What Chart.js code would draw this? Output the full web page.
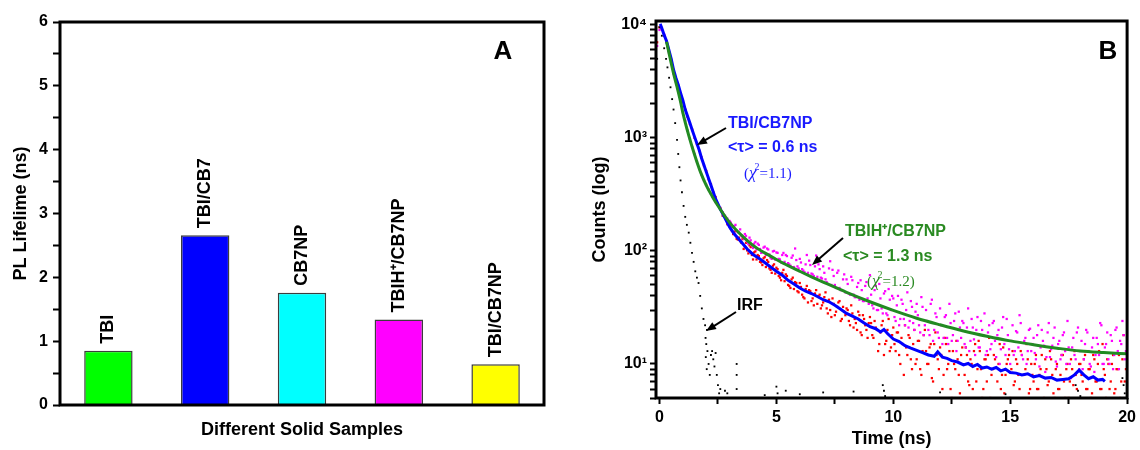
<!DOCTYPE html>
<html>
<head>
<meta charset="utf-8">
<script src="https://cdn.jsdelivr.net/npm/chart.js@4.4.1/dist/chart.umd.min.js"></script>
<style>
  html, body { margin: 0; padding: 0; background: #fff; }
  #wrap { position: relative; width: 1140px; height: 450px; }
  canvas { position: absolute; top: 0; }
  #chartA { left: 0; }
  #chartB { left: 570px; }
</style>
</head>
<body>
<div id="wrap">
  <canvas id="chartA" width="570" height="450"></canvas>
  <canvas id="chartB" width="570" height="450"></canvas>
</div>
<script>
// ---- panel A : PL lifetime of the solid samples ----
const sampleNames = ['TBI', 'TBI/CB7', 'CB7NP', 'TBIH⁺/CB7NP', 'TBI/CB7NP'];
const lifetimes = [0.85, 2.66, 1.76, 1.34, 0.64];
const barColors = ['#00ff00', '#0000ff', '#00ffff', '#ff00ff', '#ffff00'];
const yTicksA = [0, 0.5, 1, 1.5, 2, 2.5, 3, 3.5, 4, 4.5, 5, 5.5, 6];

// ---- panel B : decay curves ----
const timeNs = [
  -0.2, -0.1,
  0.0, 0.1, 0.2, 0.3, 0.4, 0.5, 0.6, 0.7, 0.8, 0.9,
  1.0, 1.1, 1.2, 1.3, 1.4, 1.5, 1.6, 1.7, 1.8, 1.9,
  2.0, 2.1, 2.2, 2.3, 2.4, 2.5, 2.6, 2.7, 2.8, 2.9,
  3.0, 3.1, 3.2, 3.3, 3.4, 3.5, 3.6, 3.7, 3.8, 3.9,
  4.0, 4.1, 4.2, 4.3, 4.4, 4.5, 4.6, 4.7, 4.8, 4.9,
  5.0, 5.1, 5.2, 5.3, 5.4, 5.5, 5.6, 5.7, 5.8, 5.9,
  6.0, 6.1, 6.2, 6.3, 6.4, 6.5, 6.6, 6.7, 6.8, 6.9,
  7.0, 7.1, 7.2, 7.3, 7.4, 7.5, 7.6, 7.7, 7.8, 7.9,
  8.0, 8.1, 8.2, 8.3, 8.4, 8.5, 8.6, 8.7, 8.8, 8.9,
  9.0, 9.1, 9.2, 9.3, 9.4, 9.5, 9.6, 9.7, 9.8, 9.9,
  10.0, 10.1, 10.2, 10.3, 10.4, 10.5, 10.6, 10.7, 10.8, 10.9,
  11.0, 11.1, 11.2, 11.3, 11.4, 11.5, 11.6, 11.7, 11.8, 11.9,
  12.0, 12.1, 12.2, 12.3, 12.4, 12.5, 12.6, 12.7, 12.8, 12.9,
  13.0, 13.1, 13.2, 13.3, 13.4, 13.5, 13.6, 13.7, 13.8, 13.9,
  14.0, 14.1, 14.2, 14.3, 14.4, 14.5, 14.6, 14.7, 14.8, 14.9,
  15.0, 15.1, 15.2, 15.3, 15.4, 15.5, 15.6, 15.7, 15.8, 15.9,
  16.0, 16.1, 16.2, 16.3, 16.4, 16.5, 16.6, 16.7, 16.8, 16.9,
  17.0, 17.1, 17.2, 17.3, 17.4, 17.5, 17.6, 17.7, 17.8, 17.9,
  18.0, 18.1, 18.2, 18.3, 18.4, 18.5, 18.6, 18.7, 18.8, 18.9,
  19.0, 19.1, 19.2, 19.3, 19.4, 19.5, 19.6, 19.7, 19.8, 19.9,
  20.0
];

// TBI/CB7NP measured counts (red dots)
const countsTBI = [
  3500, 7000,
  9500, 9200, 8000, 7100, 5900, 4900, 4000, 3400, 2900, 2480,
  2100, 1790, 1540, 1330, 1180, 1000, 880, 770, 670, 570,
  510, 430, 390, 330, 300, 255, 240, 205, 200, 172,
  168, 150, 146, 128, 131, 118, 104, 118, 95, 108,
  84, 99, 92, 80, 75, 88, 83, 70, 64, 76,
  71, 60, 55, 68, 62, 50, 47, 58, 53, 44,
  52, 41, 38, 49, 45, 36, 33, 45, 40, 31,
  35, 43, 28, 30, 38, 27, 32, 36, 25, 29,
  31, 24, 33, 21, 23, 29, 19, 27, 22, 17,
  26, 18, 24, 20, 15, 22, 12, 16, 25, 14,
  21, 13, 19, 10, 15, 22, 12, 17, 9, 20,
  11, 16, 8, 18, 13, 10, 15, 7, 19, 11,
  14, 6, 17, 9, 13, 5, 10, 16, 8, 12,
  4.5, 14, 7, 11, 6, 15, 9, 13, 5, 11,
  7, 17, 8, 12, 4.6, 10, 6, 14, 8, 11,
  5, 13, 7, 10, 6, 12, 8, 15, 5.5, 10,
  7, 12, 6, 9, 4.5, 11, 6.5, 13, 8, 5,
  10, 6, 12, 7, 9, 5, 11, 6.5, 8, 4.5,
  10, 7, 12, 6, 9, 5.5, 11, 7, 13, 6,
  9, 5, 10, 7, 12, 6, 9, 5, 11, 7,
  14
];

// TBIH+/CB7NP measured counts (magenta dots)
const countsTBIH = [
  3000, 6500,
  9000, 9400, 8200, 7000, 5700, 4600, 3700, 3150, 2600, 2100,
  1680, 1420, 1160, 980, 830, 720, 620, 530, 470, 420,
  385, 350, 320, 300, 270, 255, 238, 220, 205, 193,
  184, 170, 165, 150, 146, 137, 128, 136, 115, 124,
  106, 120, 116, 104, 97, 109, 105, 93, 85, 100,
  97, 85, 79, 96, 92, 78, 74, 91, 105, 73,
  85, 69, 65, 92, 82, 63, 60, 91, 76, 58,
  73, 56, 51, 81, 68, 50, 64, 47, 45, 62,
  56, 42, 59, 41, 39, 52, 55, 36, 49, 38,
  61, 33, 45, 30, 51, 31, 42, 28, 46, 30,
  38, 24, 40, 25, 34, 22, 43, 24, 32, 20,
  34, 22, 39, 18, 30, 20, 34, 16, 28, 19,
  31, 15, 26, 17, 34, 16, 24, 13, 29, 17,
  23, 14, 31, 16, 21, 12, 26, 14, 20, 28,
  13, 22, 15, 24, 11.5, 20, 13.5, 26, 12, 18,
  10, 22, 13, 19, 27, 12, 16, 10, 20, 13,
  17, 11, 22, 14, 16, 8.5, 19, 11.5, 14.5, 21,
  9.5, 16, 12, 19, 10, 14, 7.5, 17, 11, 21,
  13, 9, 15, 19, 10, 14, 8.5, 17, 12, 22,
  10, 15, 11, 18, 9, 20, 13, 16, 24, 11,
  17
];

// the in-between channels of the noisy tail (3.05 ... 19.95 ns)
const timeNsMid = [
  3.05, 3.15, 3.25, 3.35, 3.45, 3.55, 3.65, 3.75, 3.85, 3.95,
  4.05, 4.15, 4.25, 4.35, 4.45, 4.55, 4.65, 4.75, 4.85, 4.95,
  5.05, 5.15, 5.25, 5.35, 5.45, 5.55, 5.65, 5.75, 5.85, 5.95,
  6.05, 6.15, 6.25, 6.35, 6.45, 6.55, 6.65, 6.75, 6.85, 6.95,
  7.05, 7.15, 7.25, 7.35, 7.45, 7.55, 7.65, 7.75, 7.85, 7.95,
  8.05, 8.15, 8.25, 8.35, 8.45, 8.55, 8.65, 8.75, 8.85, 8.95,
  9.05, 9.15, 9.25, 9.35, 9.45, 9.55, 9.65, 9.75, 9.85, 9.95,
  10.05, 10.15, 10.25, 10.35, 10.45, 10.55, 10.65, 10.75, 10.85, 10.95,
  11.05, 11.15, 11.25, 11.35, 11.45, 11.55, 11.65, 11.75, 11.85, 11.95,
  12.05, 12.15, 12.25, 12.35, 12.45, 12.55, 12.65, 12.75, 12.85, 12.95,
  13.05, 13.15, 13.25, 13.35, 13.45, 13.55, 13.65, 13.75, 13.85, 13.95,
  14.05, 14.15, 14.25, 14.35, 14.45, 14.55, 14.65, 14.75, 14.85, 14.95,
  15.05, 15.15, 15.25, 15.35, 15.45, 15.55, 15.65, 15.75, 15.85, 15.95,
  16.05, 16.15, 16.25, 16.35, 16.45, 16.55, 16.65, 16.75, 16.85, 16.95,
  17.05, 17.15, 17.25, 17.35, 17.45, 17.55, 17.65, 17.75, 17.85, 17.95,
  18.05, 18.15, 18.25, 18.35, 18.45, 18.55, 18.65, 18.75, 18.85, 18.95,
  19.05, 19.15, 19.25, 19.35, 19.45, 19.55, 19.65, 19.75, 19.85, 19.95
];
const countsTBIMid = [
  158, 141, 150, 126, 122, 127, 109, 101, 112, 92,
  97, 84, 90, 79, 86, 72, 80, 68, 74, 63,
  69, 58, 64, 54, 60, 49, 56, 46, 52, 43,
  48, 39, 46, 35, 44, 38, 42, 34, 41, 33,
  39, 31, 37, 26, 34, 29, 35, 24, 32, 27,
  30, 22, 28, 25, 20, 27, 18, 25, 20, 23,
  23, 17, 21, 13, 19, 24, 15, 20, 13, 18,
  15, 19, 12, 17, 8, 14, 18, 11, 15, 10,
  16, 9, 13, 20, 10, 14, 7.5, 15, 12, 9,
  12, 8, 15, 10, 6, 13, 9, 11, 5.5, 14,
  8, 12, 6.5, 10, 13, 7, 16, 9, 6, 11,
  12, 5, 9, 11, 7, 15, 8, 5.5, 10, 12,
  9, 6.5, 11, 8, 13, 4.8, 9, 11, 6, 8,
  10, 6, 8, 12, 5, 9, 7, 11, 5.5, 9,
  6, 8, 12, 5, 10, 7, 9, 13, 6, 10,
  8, 11, 6, 9, 5, 12, 7, 10, 6, 15,
  8, 11, 6, 10, 5.5, 9, 12, 7, 18, 9
];
const countsTBIHMid = [
  178, 162, 170, 146, 155, 133, 141, 121, 131, 112,
  116, 103, 113, 96, 107, 92, 103, 87, 99, 84,
  96, 84, 92, 80, 90, 76, 87, 72, 83, 70,
  79, 67, 76, 64, 75, 62, 73, 59, 69, 57,
  64, 53, 70, 50, 60, 47, 67, 45, 56, 43,
  51, 41, 55, 39, 48, 37, 45, 36, 53, 34,
  41, 31, 49, 30, 38, 28, 44, 27, 37, 40,
  26, 33, 22, 37, 25, 30, 21, 36, 23, 29,
  27, 19, 32, 22, 24, 18, 37, 20, 26, 17,
  22, 17, 27, 15, 23, 18, 28, 16, 21, 24,
  15, 21, 13, 25, 16.5, 20, 14, 24, 18, 12,
  19, 13.5, 23, 16, 18, 10, 21, 15, 25, 13.5,
  16, 12, 19.5, 14, 23, 11, 17, 13, 20.5, 15,
  12.5, 18, 9.5, 20, 14.5, 11.5, 23, 13.5, 17, 10.5,
  15, 11, 18, 13, 24, 10, 14, 12, 19, 9,
  16, 11, 20, 13, 9.5, 17, 12, 15, 23, 10,
  14, 19, 10, 16, 12, 21, 9, 15, 18, 13
];

// instrument response (black dots)
const irfTime = [
  -0.1, 0.0, 0.1, 0.2, 0.28, 0.34, 0.41, 0.47, 0.54, 0.6, 0.67, 0.75, 0.8, 0.85, 0.9, 0.96,
  1.03, 1.1, 1.17, 1.25, 1.32, 1.39, 1.46, 1.53, 1.6, 1.67, 1.74, 1.81, 1.88, 1.95, 2.03,
  1.97, 2.0, 2.05, 1.98, 2.1, 2.02, 2.15, 2.2, 2.25, 2.3, 2.35, 2.4, 2.45, 2.5, 2.55, 2.6,
  2.8, 2.9, 3.3, 3.3, 3.3, 4.5, 5.0, 5.05, 5.4, 6.0, 7.0, 8.3,
  9.55, 9.6, 9.65, 12.0, 14.8, 17.8, 17.9, 18.0, 19.8, 19.85, 19.9
];
const irfCounts = [
  5000, 9500, 8000, 6200, 5000, 4200, 3400, 2800, 2200, 1780, 1350, 960, 720, 550, 420, 330,
  250, 200, 170, 145, 118, 96, 80, 66, 58, 52, 40, 31, 25, 22, 20,
  17, 15, 13, 11.5, 10, 9, 8, 12, 13, 11, 9.5, 12.5, 8, 6.5, 5.5, 6,
  5.8, 5.5, 10, 8, 6, 5.3, 6.3, 5.5, 5.8, 5.4, 5.6, 5.7,
  6.5, 5.8, 5.2, 5.6, 5.4, 6.5, 5.8, 5.2, 7.5, 6.5, 5.5
];

// fitted / smoothed curves
const fitTBITime = [
  0.0, 0.05, 0.1, 0.2, 0.3, 0.4, 0.5, 0.6, 0.7, 0.8, 0.9, 1.0, 1.1, 1.2, 1.3, 1.4, 1.5, 1.6, 1.7, 1.8, 1.9, 2.0,
  2.2, 2.4, 2.6, 2.8, 3.0, 3.2, 3.5, 3.75,
  4.0, 4.25, 4.5, 4.75, 5.0, 5.25, 5.5, 5.75, 6.0, 6.25, 6.5, 6.75, 7.0, 7.25, 7.5, 7.75, 8.0, 8.25, 8.5, 8.75, 9.0, 9.25,
  9.45, 9.6, 9.75, 10.0, 10.25, 10.5, 10.75, 11.0, 11.25, 11.5, 11.75,
  11.9, 12.1, 12.3, 12.5, 12.75, 13.0, 13.2, 13.4, 13.6, 13.8, 14.0, 14.2, 14.4, 14.6, 14.8,
  15.0, 15.25, 15.5, 15.75, 16.0, 16.25, 16.5, 16.75, 17.0, 17.25, 17.5, 17.75,
  17.95, 18.15, 18.35, 18.55, 18.75, 18.95, 19.05
];
const fitTBICounts = [
  9800, 9900, 9300, 8100, 7200, 6000, 5000, 4000, 3400, 2950, 2500, 2140, 1780, 1550, 1350, 1170, 1020, 890, 776, 660, 575, 500,
  380, 288, 234, 195, 162, 141, 120, 104,
  93, 86, 79, 72, 66, 61, 55, 51, 47, 44, 42, 39.5, 37, 35.5, 33, 30.5, 28, 26.5, 25, 23, 21.4, 20.5,
  19.2, 20.2, 18.6, 16.6, 15.8, 14.5, 13.8, 13.2, 12.6, 12.0, 11.7,
  12.8, 11.5, 11.2, 10.7, 10.4, 9.8, 10.1, 9.5, 9.9, 9.2, 9.4, 9.0, 9.3, 8.7, 9.0,
  8.4, 8.3, 8.0, 8.2, 7.7, 7.9, 7.5, 7.6, 7.2, 7.3, 7.4, 8.0,
  8.8, 8.0, 7.4, 7.7, 7.2, 7.3, 7.0
];
const fitTBIHTime = [0.3, 0.4, 0.5, 0.6, 0.75, 0.9, 1.0, 1.25, 1.5, 1.75, 2.0, 2.25, 2.5, 3.0, 3.5, 4.0, 4.5, 5.0,
  5.5, 6.0, 6.5, 7.0, 8.0, 9.0, 10, 11, 12, 13, 14, 15, 16, 17, 18, 19, 20];
const fitTBIHCounts = [7080, 5700, 4570, 3720, 2820, 2090, 1660, 1050, 708, 500, 380, 305, 251, 178, 138, 112, 96, 84,
  74, 66, 59, 53, 43, 35.5, 29.8, 25.4, 22.2, 19.6, 17.6, 16.0, 14.8, 13.8, 13.0, 12.6, 12.3];

const xTicksB = [0, 2.5, 5, 7.5, 10, 12.5, 15, 17.5, 20];
const yTicksB = [5, 6, 7, 8, 9, 10, 20, 30, 40, 50, 60, 70, 80, 90, 100, 200, 300, 400, 500, 600, 700, 800, 900,
  1000, 2000, 3000, 4000, 5000, 6000, 7000, 8000, 9000, 10000];
const decadeLabels = { 10: '10¹', 100: '10²', 1000: '10³', 10000: '10⁴' };

const SANS = "'Liberation Sans', Arial, sans-serif";
const SERIF = "'Liberation Serif', 'Times New Roman', serif";
Chart.defaults.font.family = SANS;
Chart.defaults.color = '#000';
Chart.defaults.animation = false;

const toPoints = (xs, ys) => xs.map((x, i) => ({ x: x, y: ys[i] }));

// black box round the plot area
const framePlugin = {
    id: 'frame',
    afterDraw(chart) {
        const { ctx, chartArea: a } = chart;
        ctx.save();
        ctx.lineWidth = 3;
        ctx.strokeStyle = '#000';
        ctx.strokeRect(a.left, a.top, a.right - a.left, a.bottom - a.top);
        ctx.restore();
    }
};

function drawArrow(ctx, x1, y1, x2, y2) {
    const ang = Math.atan2(y2 - y1, x2 - x1);
    const L = 10, W = 4;
    ctx.beginPath();
    ctx.moveTo(x1, y1);
    ctx.lineTo(x2 - 6 * Math.cos(ang), y2 - 6 * Math.sin(ang));
    ctx.lineWidth = 2;
    ctx.strokeStyle = '#000';
    ctx.stroke();
    ctx.beginPath();
    ctx.moveTo(x2, y2);
    ctx.lineTo(x2 - L * Math.cos(ang) + W * Math.sin(ang), y2 - L * Math.sin(ang) - W * Math.cos(ang));
    ctx.lineTo(x2 - L * Math.cos(ang) - W * Math.sin(ang), y2 - L * Math.sin(ang) + W * Math.cos(ang));
    ctx.closePath();
    ctx.fillStyle = '#000';
    ctx.fill();
}

function drawChi(ctx, x, y, val, color) {
    ctx.fillStyle = color;
    ctx.textAlign = 'left';
    ctx.textBaseline = 'middle';
    ctx.font = '15px ' + SERIF;
    ctx.fillText('(', x, y);
    x += ctx.measureText('(').width;
    ctx.font = 'italic 17px ' + SERIF;
    ctx.fillText('χ', x, y);
    x += ctx.measureText('χ').width;
    ctx.font = '10px ' + SERIF;
    ctx.fillText('2', x - 2, y - 7);
    x += ctx.measureText('2').width - 2;
    ctx.font = '15px ' + SERIF;
    ctx.fillText('=' + val + ')', x, y);
}

// ---------- panel A ----------
const barLabelPlugin = {
    id: 'barLabels',
    afterDraw(chart) {
        const ctx = chart.ctx;
        const meta = chart.getDatasetMeta(0);
        ctx.save();
        ctx.fillStyle = '#000';
        ctx.font = 'bold 18px ' + SANS;
        ctx.textAlign = 'left';
        ctx.textBaseline = 'middle';
        meta.data.forEach((bar, i) => {
            ctx.save();
            ctx.translate(bar.x, bar.y - 7);
            ctx.rotate(-Math.PI / 2);
            ctx.fillText(sampleNames[i], 0, 0);
            ctx.restore();
        });
        ctx.font = 'bold 26px ' + SANS;
        ctx.textAlign = 'center';
        ctx.fillText('A', 503, 52);
        ctx.restore();
    }
};

new Chart(document.getElementById('chartA'), {
    type: 'bar',
    data: {
        labels: sampleNames,
        datasets: [{
            data: lifetimes,
            backgroundColor: barColors,
            borderColor: '#3c3c3c',
            borderWidth: 1.5,
            barPercentage: 0.5,
            categoryPercentage: 1.0
        }]
    },
    options: {
        responsive: false,
        layout: { padding: { left: 0, right: 26, top: 22, bottom: 0 } },
        plugins: { legend: { display: false }, tooltip: { enabled: false } },
        scales: {
            x: {
                afterFit: s => { s.height = 45; },
                grid: { display: false },
                border: { display: false },
                ticks: { display: false },
                title: { display: true, text: 'Different Solid Samples', font: { size: 18, weight: 'bold' }, padding: { top: 0, bottom: 9 } }
            },
            y: {
                min: 0,
                max: 6,
                afterBuildTicks: s => { s.ticks = yTicksA.map(v => ({ value: v })); },
                afterFit: s => { s.width = 60; },
                grid: { drawOnChartArea: false, tickLength: 7, tickColor: '#000', tickWidth: 2 },
                border: { display: false },
                ticks: {
                    font: { size: 16, weight: 'bold' },
                    padding: 5,
                    callback: v => (v % 1 === 0 ? String(v) : '')
                },
                title: { display: true, text: 'PL Lifelime (ns)', font: { size: 18, weight: 'bold' }, padding: { top: 10, bottom: 0 } }
            }
        }
    },
    plugins: [framePlugin, barLabelPlugin]
});

// ---------- panel B ----------
const decayNotes = {
    id: 'decayNotes',
    afterDraw(chart) {
        const ctx = chart.ctx;
        ctx.save();
        ctx.textAlign = 'left';
        ctx.textBaseline = 'middle';

        ctx.font = 'bold 16px ' + SANS;
        ctx.fillStyle = '#1a1aff';
        ctx.fillText('TBI/CB7NP', 158, 124);
        ctx.fillText('<τ> = 0.6 ns', 158, 148);
        drawChi(ctx, 174, 174, '1.1', '#1a1aff');
        drawArrow(ctx, 156, 128, 127, 145);

        ctx.font = 'bold 16px ' + SANS;
        ctx.fillStyle = '#2a8a22';
        ctx.fillText('TBIH⁺/CB7NP', 275, 232);
        ctx.fillText('<τ> = 1.3 ns', 273, 257);
        drawChi(ctx, 297, 282, '1.2', '#2a8a22');
        drawArrow(ctx, 273, 238, 242, 265);

        ctx.font = 'bold 16px ' + SANS;
        ctx.fillStyle = '#000';
        ctx.fillText('IRF', 167, 306);
        drawArrow(ctx, 166, 312, 136, 331);

        ctx.font = 'bold 26px ' + SANS;
        ctx.textAlign = 'center';
        ctx.fillText('B', 538, 52);
        ctx.restore();
    }
};

new Chart(document.getElementById('chartB'), {
    type: 'scatter',
    data: {
        datasets: [
            {
                label: 'TBIH+/CB7NP fit',
                data: toPoints(fitTBIHTime, fitTBIHCounts),
                showLine: true,
                borderColor: '#228b22',
                borderWidth: 3,
                pointRadius: 0,
                cubicInterpolationMode: 'monotone'
            },
            {
                label: 'TBI/CB7NP fit',
                data: toPoints(fitTBITime, fitTBICounts),
                showLine: true,
                borderColor: '#0000ff',
                borderWidth: 3,
                pointRadius: 0,
                tension: 0
            },
            {
                label: 'IRF',
                data: toPoints(irfTime, irfCounts),
                pointStyle: 'rect',
                pointRadius: 1.3,
                borderWidth: 0,
                backgroundColor: '#000'
            },
            {
                label: 'TBIH+/CB7NP',
                data: toPoints(timeNs.concat(timeNsMid), countsTBIH.concat(countsTBIHMid)),
                pointStyle: 'rect',
                pointRadius: 1.6,
                borderWidth: 0,
                backgroundColor: '#ff00ff'
            },
            {
                label: 'TBI/CB7NP',
                data: toPoints(timeNs.concat(timeNsMid), countsTBI.concat(countsTBIMid)),
                pointStyle: 'rect',
                pointRadius: 1.6,
                borderWidth: 0,
                backgroundColor: '#ff0000'
            }
        ]
    },
    options: {
        responsive: false,
        layout: { padding: { left: 0, right: 11, top: 21, bottom: 0 } },
        plugins: { legend: { display: false }, tooltip: { enabled: false } },
        scales: {
            x: {
                type: 'linear',
                min: -0.15,
                max: 20,
                afterBuildTicks: s => { s.ticks = xTicksB.map(v => ({ value: v })); },
                afterFit: s => { s.height = 52; },
                grid: { drawOnChartArea: false, tickLength: 6, tickColor: '#000', tickWidth: 2 },
                border: { display: false },
                ticks: {
                    font: { size: 16, weight: 'bold' },
                    padding: 4,
                    maxRotation: 0,
                    autoSkip: false,
                    callback: v => (v % 5 === 0 ? String(v) : '')
                },
                title: { display: true, text: 'Time (ns)', font: { size: 18, weight: 'bold' }, padding: { top: 0, bottom: 0 } }
            },
            y: {
                type: 'logarithmic',
                min: 5,
                max: 10800,
                afterBuildTicks: s => { s.ticks = yTicksB.map(v => ({ value: v })); },
                afterFit: s => { s.width = 86; },
                grid: { drawOnChartArea: false, tickLength: 6, tickColor: '#000', tickWidth: 2 },
                border: { display: false },
                ticks: {
                    font: { size: 16, weight: 'bold' },
                    padding: 3,
                    autoSkip: false,
                    callback: v => decadeLabels[v] || ''
                },
                title: { display: true, text: 'Counts (log)', font: { size: 18, weight: 'bold' }, padding: { top: 19, bottom: 0 } }
            }
        }
    },
    plugins: [framePlugin, decayNotes]
});
</script>
</body>
</html>
